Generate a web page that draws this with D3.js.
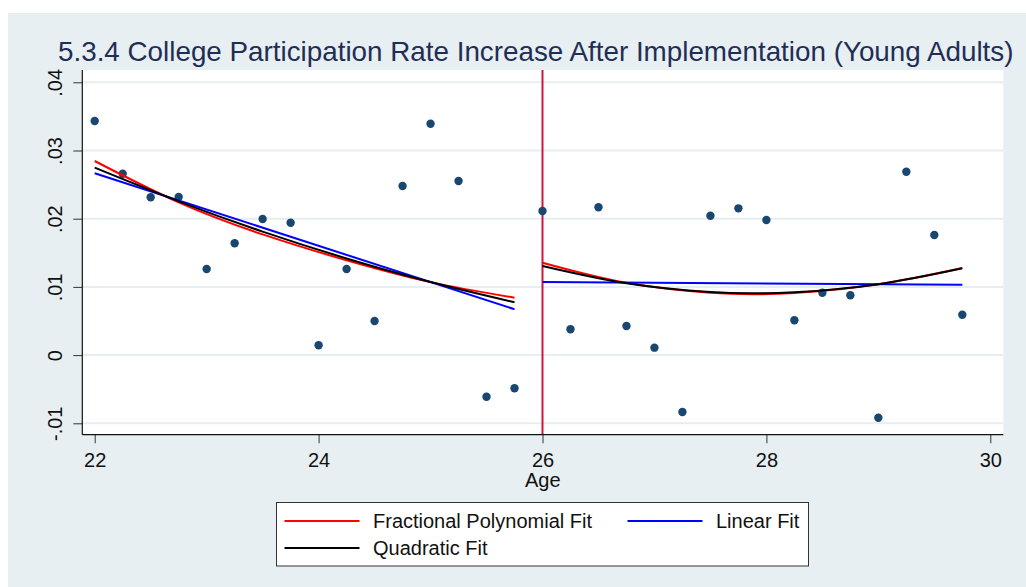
<!DOCTYPE html>
<html lang="en">
<head>
  <meta charset="UTF-8">
  <title>College Participation Rate Increase After Implementation</title>
  <script src="https://d3js.org/d3.v7.min.js"></script>
  <style>
    body { margin: 0; background: #ffffff; }
    svg { display: block; font-family: "Liberation Sans", Arial, sans-serif; }
    .tick text { font-size: 20px; fill: #111; }
    .legend text { font-size: 20px; fill: #111; }
  </style>
</head>
<body>
<svg width="1026" height="587"></svg>
<script>
  // Data
  const ages = [22, 22.25, 22.5, 22.75, 23, 23.25, 23.5, 23.75, 24, 24.25, 24.5, 24.75, 25, 25.25, 25.5, 25.75,
                26, 26.25, 26.5, 26.75, 27, 27.25, 27.5, 27.75, 28, 28.25, 28.5, 28.75, 29, 29.25, 29.5, 29.75];
  const rates = [0.03433, 0.0266, 0.02314, 0.02318, 0.01262, 0.01639, 0.01996, 0.01941,
                 0.00144, 0.01262, 0.0050, 0.0248, 0.03393, 0.02553, -0.0061, -0.00487,
                 0.02113, 0.00378, 0.02167, 0.00427, 0.00109, -0.00834, 0.02044, 0.02152,
                 0.01981, 0.0051, 0.00915, 0.00877, -0.00918, 0.02689, 0.01761, 0.00592];

  const cutoffAge = 26;

  // Fit lines, before and after the cutoff
  const fitAgesBefore = [22, 22.75, 23.5, 24.25, 25, 25.75];
  const fitAgesAfter = [26, 26.75, 27.5, 27.9, 28.25, 29, 29.75];
  const fracPolyBefore = [0.02846, 0.0224, 0.0177, 0.0139, 0.0107, 0.00842];
  const fracPolyAfter = [0.01355, 0.0106, 0.00915, 0.00893, 0.0091, 0.0104, 0.01277];
  const quadBefore = [0.02748, 0.02255, 0.01811, 0.01417, 0.01071, 0.00774];
  const quadAfter = [0.01306, 0.01053, 0.00924, 0.00906, 0.0092, 0.0104, 0.01272];
  const linAgesBefore = [22, 25.75];
  const linAgesAfter = [26, 29.75];
  const linBefore = [0.02666, 0.00672];
  const linAfter = [0.01072, 0.01032];

  const xTicks = [22, 24, 26, 28, 30];
  const yTicks = [-0.01, 0, 0.01, 0.02, 0.03, 0.04];
  const yTickLabels = ["-.01", "0", ".01", ".02", ".03", ".04"];

  const legendItems = ["Fractional Polynomial Fit", "Linear Fit", "Quadratic Fit"];
  const legendColors = ["#ff0000", "#0000ff", "#000000"];

  // Plot region
  const plot = {left: 82.3, right: 1003.3, top: 70, bottom: 434.7};

  const svg = d3.select("svg");

  // Graph region background
  svg.append("rect")
    .attr("x", 8).attr("y", 13)
    .attr("width", 1018).attr("height", 574)
    .attr("fill", "#e8eff2");

  svg.append("rect")
    .attr("x", plot.left).attr("y", plot.top)
    .attr("width", plot.right - plot.left)
    .attr("height", plot.bottom - plot.top)
    .attr("fill", "#ffffff");

  const x = d3.scaleLinear().domain([22, 30]).range([94.7, 990.3]);
  const y = d3.scaleLinear().domain([-0.01, 0.04]).range([423.3, 82.3]);

  // Gridlines
  svg.append("g")
    .selectAll("line")
    .data(yTicks)
    .enter().append("line")
    .attr("x1", plot.left).attr("x2", plot.right)
    .attr("y1", d => y(d)).attr("y2", d => y(d))
    .attr("stroke", "#e6eef1")
    .attr("stroke-width", 2);

  // Cutoff line
  svg.append("line")
    .attr("x1", x(cutoffAge)).attr("x2", x(cutoffAge))
    .attr("y1", plot.top).attr("y2", plot.bottom)
    .attr("stroke", "#d0163d")
    .attr("stroke-width", 2);

  // Scatter points
  svg.append("g")
    .selectAll("circle")
    .data(ages)
    .enter().append("circle")
    .attr("cx", d => x(d))
    .attr("cy", (d, i) => y(rates[i]))
    .attr("r", 4.2)
    .attr("fill", "#1a476f");

  // Fit lines
  const line = d3.line()
    .x(d => x(d[0]))
    .y(d => y(d[1]))
    .curve(d3.curveNatural);

  const fits = [
    {color: "#ff0000", ages: fitAgesBefore, values: fracPolyBefore},
    {color: "#ff0000", ages: fitAgesAfter, values: fracPolyAfter},
    {color: "#0000ff", ages: linAgesBefore, values: linBefore},
    {color: "#0000ff", ages: linAgesAfter, values: linAfter},
    {color: "#000000", ages: fitAgesBefore, values: quadBefore},
    {color: "#000000", ages: fitAgesAfter, values: quadAfter}
  ];

  svg.append("g")
    .selectAll("path")
    .data(fits)
    .enter().append("path")
    .attr("fill", "none")
    .attr("stroke", d => d.color)
    .attr("stroke-width", 2)
    .attr("d", d => line(d.ages.map((a, i) => [a, d.values[i]])));

  // Y axis
  const yAxis = svg.append("g")
    .attr("transform", `translate(${plot.left},0)`)
    .call(d3.axisLeft(y)
      .tickValues(yTicks)
      .tickSize(9)
      .tickSizeOuter(0)
      .tickFormat((d, i) => yTickLabels[i]));
  yAxis.select(".domain").remove();
  yAxis.selectAll(".tick line").attr("stroke", "#333");
  yAxis.selectAll(".tick text")
    .attr("transform", "rotate(-90)")
    .attr("x", 0)
    .attr("y", -20.3)
    .attr("dy", 0)
    .attr("text-anchor", "middle");

  // X axis
  const xAxis = svg.append("g")
    .attr("transform", `translate(0,${plot.bottom})`)
    .call(d3.axisBottom(x)
      .tickValues(xTicks)
      .tickSize(8.6)
      .tickSizeOuter(0));
  xAxis.select(".domain").remove();
  xAxis.selectAll(".tick line").attr("stroke", "#333");
  xAxis.selectAll(".tick text")
    .attr("y", 32.3)
    .attr("dy", 0);

  // Axis lines
  svg.append("line")
    .attr("x1", plot.left).attr("x2", plot.left)
    .attr("y1", plot.top).attr("y2", plot.bottom)
    .attr("stroke", "#111").attr("stroke-width", 1.2);
  svg.append("line")
    .attr("x1", plot.left).attr("x2", plot.right)
    .attr("y1", plot.bottom).attr("y2", plot.bottom)
    .attr("stroke", "#111").attr("stroke-width", 1.2);

  // Axis title
  svg.append("text")
    .attr("x", (plot.left + plot.right) / 2)
    .attr("y", 487)
    .attr("text-anchor", "middle")
    .style("font-size", "20px")
    .style("fill", "#111")
    .text("Age");

  // Title
  svg.append("text")
    .attr("x", 58)
    .attr("y", 61)
    .style("font-size", "27.8px")
    .style("fill", "#1f2e55")
    .text("5.3.4 College Participation Rate Increase After Implementation (Young Adults)");

  // Legend
  const legend = svg.append("g").attr("class", "legend");
  legend.append("rect")
    .attr("x", 276.5).attr("y", 502.5)
    .attr("width", 532).attr("height", 63.5)
    .attr("fill", "#ffffff")
    .attr("stroke", "#333")
    .attr("stroke-width", 1);

  const legendPos = [[284.5, 521], [627.5, 521], [284.5, 548]];
  const item = legend.selectAll(".item")
    .data(legendItems)
    .enter().append("g")
    .attr("class", "item")
    .attr("transform", (d, i) => `translate(${legendPos[i][0]},${legendPos[i][1]})`);

  item.append("line")
    .attr("x1", 0).attr("x2", 75)
    .attr("stroke", (d, i) => legendColors[i])
    .attr("stroke-width", 2);

  item.append("text")
    .attr("x", 88.5)
    .attr("y", 7)
    .text(d => d);
</script>
</body>
</html>
